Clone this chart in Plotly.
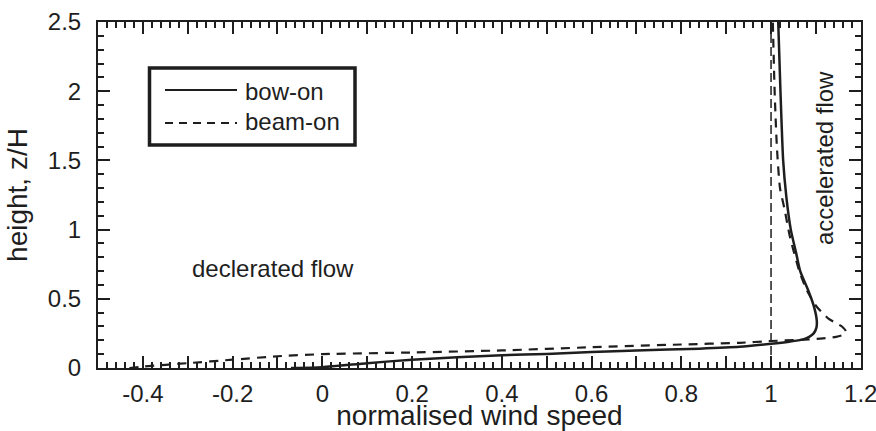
import plotly.graph_objects as go

# ---- data ----
bow_on_speed = [-0.07, 0.0, 0.1, 0.2, 0.3, 0.4, 0.5, 0.6, 0.7, 0.84, 0.93, 1.0, 1.04, 1.07,
                1.085, 1.095, 1.101, 1.102, 1.096, 1.083, 1.065, 1.056, 1.044, 1.034,
                1.027, 1.021, 1.016]
bow_on_height = [0.0, 0.006, 0.035, 0.06, 0.078, 0.092, 0.102, 0.115, 0.127, 0.14, 0.153,
                 0.175, 0.19, 0.205, 0.225, 0.25, 0.29, 0.34, 0.44, 0.56, 0.7, 0.83, 1.0,
                 1.24, 1.5, 2.0, 2.5]

beam_on_speed = [-0.43, -0.4, -0.3, -0.2, -0.1, 0.0, 0.2, 0.4, 0.6, 0.8, 0.93, 1.0, 1.06,
                 1.11, 1.145, 1.162, 1.167, 1.158, 1.145, 1.128, 1.10, 1.08, 1.063, 1.042,
                 1.03, 1.02, 1.013, 1.008, 1.004]
beam_on_height = [0.0, 0.01, 0.035, 0.06, 0.085, 0.1, 0.112, 0.127, 0.15, 0.17, 0.182,
                  0.195, 0.203, 0.212, 0.225, 0.242, 0.265, 0.3, 0.325, 0.356, 0.45, 0.56,
                  0.7, 0.95, 1.15, 1.3, 1.6, 2.0, 2.5]

reference_speed = [1.0, 1.0]
reference_height = [0.0, 2.5]

x_tick_vals = [-0.5, -0.4, -0.3, -0.2, -0.1, 0.0, 0.1, 0.2, 0.3, 0.4, 0.5, 0.6, 0.7, 0.8,
               0.9, 1.0, 1.1, 1.2]
x_tick_text = ["", "-0.4", "", "-0.2", "", "0", "", "0.2", "", "0.4", "", "0.6", "", "0.8",
               "", "1", "", "1.2"]
y_tick_vals = [0, 0.5, 1.0, 1.5, 2.0, 2.5]
y_tick_text = ["0", "0.5", "1", "1.5", "2", "2.5"]
x_minor_step = 0.02
y_minor_step = 0.1

series_names = ["bow-on", "beam-on"]

INK = "#1e1e1e"
FONT = "Liberation Sans, Arial, Helvetica, sans-serif"
X_RANGE = [-0.5, 1.2005]
Y_RANGE = [0, 2.5005]

PL, PR, PT, PB = 98, 861, 22, 368
W, H = 876, 431

fig = go.Figure()
fig.add_trace(go.Scatter(x=reference_speed, y=reference_height, mode="lines",
                         line=dict(color=INK, width=1.5, dash="9px,4px"),
                         showlegend=False, hoverinfo="skip"))
fig.add_trace(go.Scatter(x=bow_on_speed, y=bow_on_height, mode="lines", name=series_names[0],
                         line=dict(color=INK, width=2.5, shape="spline", smoothing=0.6),
                         showlegend=False))
fig.add_trace(go.Scatter(x=beam_on_speed, y=beam_on_height, mode="lines", name=series_names[1],
                         line=dict(color=INK, width=2.2, dash="9px,7px", shape="spline",
                                   smoothing=0.6),
                         showlegend=False))
# invisible carrier trace for the minor-tick overlay axes
fig.add_trace(go.Scatter(x=[X_RANGE[0]], y=[Y_RANGE[0]], xaxis="x2", yaxis="y2", mode="markers",
                         marker=dict(opacity=0), showlegend=False, hoverinfo="skip"))


def px(x):
    return (x - PL) / (PR - PL)


def py(y):
    return (PB - y) / (PB - PT)


# hand-drawn legend box (paper coordinates)
shapes = [
    dict(type="rect", xref="paper", yref="paper", x0=px(149.5), x1=px(355), y0=py(145), y1=py(68),
         line=dict(color=INK, width=3.5), fillcolor="white", layer="above"),
    dict(type="line", xref="paper", yref="paper", x0=px(165), x1=px(237), y0=py(90), y1=py(90),
         line=dict(color=INK, width=2), layer="above"),
    dict(type="line", xref="paper", yref="paper", x0=px(165), x1=px(237), y0=py(123), y1=py(123),
         line=dict(color=INK, width=2, dash="8px,6px"), layer="above"),
]
annotations = [
    dict(xref="paper", yref="paper", x=px(243), y=py(91), text=series_names[0], showarrow=False,
         xanchor="left", yanchor="middle", font=dict(family=FONT, size=24, color=INK)),
    dict(xref="paper", yref="paper", x=px(243), y=py(122), text=series_names[1], showarrow=False,
         xanchor="left", yanchor="middle", font=dict(family=FONT, size=24, color=INK)),
    dict(xref="paper", yref="paper", x=px(190), y=py(268), text="declerated flow", showarrow=False,
         xanchor="left", yanchor="middle", font=dict(family=FONT, size=24, color=INK)),
    dict(xref="paper", yref="paper", x=px(824), y=py(158), text="accelerated flow", showarrow=False,
         textangle=-90, xanchor="center", yanchor="middle",
         font=dict(family=FONT, size=24, color=INK)),
]


def axis_style(**kw):
    base = dict(ticks="inside", tickcolor=INK, showline=True, linewidth=2, linecolor=INK,
                mirror="allticks", showgrid=False, zeroline=False, automargin=False,
                layer="above traces")
    base.update(kw)
    return base


fig.update_layout(
    template="none",
    xaxis=axis_style(range=X_RANGE, tickmode="array", tickvals=x_tick_vals, ticktext=x_tick_text,
                     ticklen=12, tickwidth=2, ticklabelstandoff=3, ticklabeloverflow="allow",
                     tickfont=dict(family=FONT, size=24, color=INK),
                     title=dict(text="normalised wind speed", standoff=0,
                                font=dict(family=FONT, size=28, color=INK))),
    yaxis=axis_style(range=Y_RANGE, tickmode="array", tickvals=y_tick_vals, ticktext=y_tick_text,
                     ticklen=12, tickwidth=2, ticklabelstandoff=10, ticklabeloverflow="allow",
                     tickfont=dict(family=FONT, size=24, color=INK),
                     title=dict(text="height, z/H", standoff=12,
                                font=dict(family=FONT, size=28, color=INK))),
    xaxis2=axis_style(range=X_RANGE, overlaying="x", anchor="y2", side="bottom",
                      tickmode="linear", tick0=0, dtick=x_minor_step, ticklen=6, tickwidth=1.5,
                      showticklabels=False),
    yaxis2=axis_style(range=Y_RANGE, overlaying="y", anchor="x2", side="left",
                      tickmode="linear", tick0=0, dtick=y_minor_step, ticklen=6, tickwidth=1.5,
                      showticklabels=False),
    width=W, height=H, margin=dict(l=PL, r=W - PR, t=PT, b=H - PB),
    paper_bgcolor="white", plot_bgcolor="white",
    shapes=shapes, annotations=annotations, showlegend=False,
    font=dict(family=FONT, color=INK),
)

fig.write_html("out.html")
